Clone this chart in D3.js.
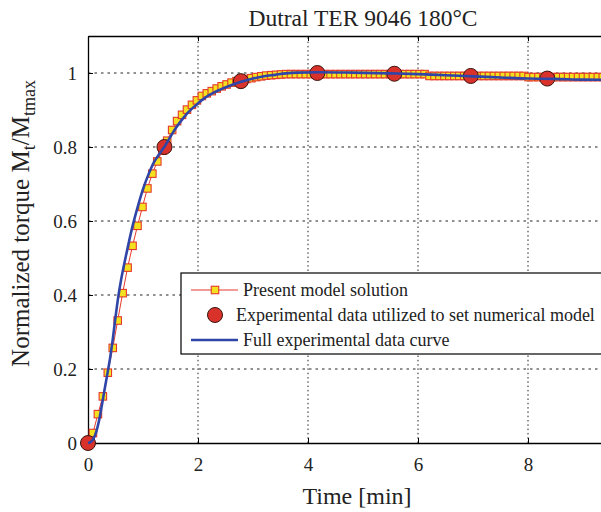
<!DOCTYPE html>
<html lang="en">
<head>
<meta charset="UTF-8" />
<title>Dutral TER 9046 180°C</title>
<style>
  body { margin: 0; background: #fff; }
  svg { display: block; }
  text { font-family: "Liberation Serif", "Times New Roman", serif; fill: #222; }
  .axis path, .axis line { stroke: #000; }
</style>
</head>
<body>
<svg width="601" height="512"></svg>
<script src="https://d3js.org/d3.v7.min.js"></script>
<script>
// model solution (squares)
var modelTime = [
  0, 0.09, 0.18, 0.27, 0.36, 0.45, 0.54, 0.63, 0.72, 0.81,
  0.9, 0.99, 1.08, 1.17, 1.26, 1.35, 1.44, 1.53, 1.62, 1.71,
  1.8, 1.89, 1.98, 2.07, 2.16, 2.25, 2.34, 2.43, 2.52, 2.61,
  2.7, 2.79, 2.88, 2.97, 3.06, 3.15, 3.24, 3.33, 3.42, 3.51,
  3.6, 3.69, 3.78, 3.87, 3.96, 4.05, 4.14, 4.23, 4.32, 4.41,
  4.5, 4.59, 4.68, 4.77, 4.86, 4.95, 5.04, 5.13, 5.22, 5.31,
  5.4, 5.49, 5.58, 5.67, 5.76, 5.85, 5.94, 6.03, 6.12, 6.21,
  6.3, 6.39, 6.48, 6.57, 6.66, 6.75, 6.84, 6.93, 7.02, 7.11,
  7.2, 7.29, 7.38, 7.47, 7.56, 7.65, 7.74, 7.83, 7.92, 8.01,
  8.1, 8.19, 8.28, 8.37, 8.46, 8.55, 8.64, 8.73, 8.82, 8.91,
  9.0, 9.09, 9.18, 9.27, 9.36, 9.45, 9.54, 9.63, 9.72, 9.81, 9.9, 9.99
];
var modelTorque = [
  0, 0.027, 0.078, 0.126, 0.19, 0.257, 0.331, 0.405, 0.474, 0.533,
  0.587, 0.638, 0.688, 0.728, 0.761, 0.79, 0.817, 0.846, 0.87, 0.887,
  0.901, 0.914, 0.926, 0.938, 0.945, 0.951, 0.958, 0.964, 0.969, 0.974,
  0.978, 0.981, 0.984, 0.986, 0.989, 0.991, 0.993, 0.994, 0.995, 0.996,
  0.997, 0.997, 0.997, 0.997, 0.997, 0.997, 0.997, 0.997, 0.997, 0.997,
  0.997, 0.997, 0.997, 0.997, 0.997, 0.997, 0.997, 0.997, 0.997, 0.997,
  0.997, 0.997, 0.997, 0.997, 0.997, 0.997, 0.997, 0.997, 0.997, 0.992,
  0.992, 0.992, 0.992, 0.992, 0.992, 0.992, 0.992, 0.992, 0.992, 0.992,
  0.992, 0.992, 0.992, 0.992, 0.992, 0.992, 0.992, 0.992, 0.992, 0.989,
  0.989, 0.989, 0.989, 0.989, 0.989, 0.989, 0.989, 0.989, 0.989, 0.989,
  0.989, 0.989, 0.989, 0.989, 0.989, 0.989, 0.989, 0.989, 0.989, 0.989, 0.989, 0.989
];

// experimental samples used for the model (circles)
var sampleTime = [0, 1.39, 2.78, 4.17, 5.57, 6.96, 8.35];
var sampleTorque = [0, 0.80, 0.978, 1.0, 0.998, 0.992, 0.985];

// full experimental curve (blue)
var expTime = [0, 0.05, 0.1, 0.15, 0.2, 0.25, 0.3, 0.35, 0.4, 0.45, 0.5, 0.55, 0.6, 0.65, 0.7,
  0.8, 0.9, 1.0, 1.1, 1.2, 1.3, 1.4, 1.5, 1.6, 1.7, 1.8, 1.9, 2.0, 2.1, 2.2,
  2.4, 2.6, 2.8, 3.0, 3.2, 3.4, 3.6, 3.8, 4.2, 4.8, 5.5, 6.0, 6.5, 7.0, 7.5, 8.0, 8.5, 9.0, 10.0];
var expTorque = [0, 0.003, 0.012, 0.03, 0.06, 0.1, 0.143, 0.185, 0.228, 0.28, 0.34, 0.395, 0.44, 0.478, 0.513,
  0.58, 0.636, 0.686, 0.726, 0.759, 0.782, 0.803, 0.828, 0.852, 0.872, 0.89, 0.905, 0.918, 0.93, 0.94,
  0.955, 0.967, 0.977, 0.985, 0.991, 0.995, 0.999, 1.001, 1.002, 1.001, 0.999, 0.997, 0.994, 0.991, 0.988, 0.985, 0.984, 0.982, 0.981];

var xTicks = [0, 2, 4, 6, 8, 10];
var xTickLabels = [0, 2, 4, 6, 8];
var yTicks = [0, 0.2, 0.4, 0.6, 0.8, 1];
var legendLabels = ["Present model solution", "Experimental data utilized to set numerical model", "Full experimental data curve"];

var svg = d3.select("svg");
var margin = {top: 36, left: 88};
var width = 550, height = 407;

var x = d3.scaleLinear().domain([0, 10]).range([margin.left, margin.left + width]);
var y = d3.scaleLinear().domain([0, 1.1]).range([margin.top + height, margin.top]);

var model = modelTime.map(function(t, i) { return [t, modelTorque[i]]; });
var samples = sampleTime.map(function(t, i) { return [t, sampleTorque[i]]; });
var expData = expTime.map(function(t, i) { return [t, expTorque[i]]; });

var cRed = "#e4392b", cYellow = "#f3e11f", cBlue = "#2f45a8", cDot = "#d8322a";

// grid
var grid = svg.append("g");
grid.selectAll(".vg").data(xTicks.filter(function(d) { return d > 0 && d < 10; }))
  .enter().append("line")
  .attr("x1", function(d) { return x(d); }).attr("x2", function(d) { return x(d); })
  .attr("y1", y(0)).attr("y2", y(1.1))
  .attr("stroke", "#222").attr("stroke-width", 1).attr("stroke-dasharray", "1.5,2.8");
grid.selectAll(".hg").data(yTicks.filter(function(d) { return d > 0; }))
  .enter().append("line")
  .attr("x1", x(0)).attr("x2", x(10))
  .attr("y1", function(d) { return y(d); }).attr("y2", function(d) { return y(d); })
  .attr("stroke", "#222").attr("stroke-width", 1).attr("stroke-dasharray", "2.5,4");

// axes
svg.append("g").attr("class", "axis")
  .attr("transform", "translate(0," + y(0) + ")")
  .call(d3.axisBottom(x).tickValues(xTicks).tickSize(-5).tickSizeOuter(0).tickPadding(15)
    .tickFormat(function(d) { return xTickLabels.indexOf(d) >= 0 ? String(d) : ""; }));
svg.append("g").attr("class", "axis")
  .attr("transform", "translate(" + x(0) + ",0)")
  .call(d3.axisLeft(y).tickValues(yTicks).tickSize(-5).tickSizeOuter(0).tickPadding(11)
    .tickFormat(function(d) { return String(d); }));
svg.append("g").attr("class", "axis")
  .attr("transform", "translate(0," + y(1.1) + ")")
  .call(d3.axisTop(x).tickValues(xTicks).tickSize(-5).tickSizeOuter(0).tickFormat(""));
svg.selectAll(".axis text").style("font-family", "Liberation Serif").style("font-size", "19px").attr("fill", "#222");
svg.selectAll(".axis path").attr("stroke-width", 1.3);

// model line + squares
svg.append("path").datum(model)
  .attr("fill", "none").attr("stroke", cRed).attr("stroke-width", 1)
  .attr("d", d3.line().x(function(d) { return x(d[0]); }).y(function(d) { return y(d[1]); }));
svg.selectAll(".sq").data(model).enter().append("rect")
  .attr("x", function(d) { return x(d[0]) - 3.75; })
  .attr("y", function(d) { return y(d[1]) - 3.75; })
  .attr("width", 7.5).attr("height", 7.5)
  .attr("fill", cYellow).attr("stroke", cRed).attr("stroke-width", 1.1);

// sample circles
svg.selectAll(".dot").data(samples).enter().append("circle")
  .attr("cx", function(d) { return x(d[0]); })
  .attr("cy", function(d) { return y(d[1]); })
  .attr("r", 7.5)
  .attr("fill", cDot).attr("stroke", "#3a1510").attr("stroke-width", 1);

// full experimental curve
svg.append("path").datum(expData)
  .attr("fill", "none").attr("stroke", cBlue).attr("stroke-width", 2.6)
  .attr("d", d3.line().curve(d3.curveMonotoneX).x(function(d) { return x(d[0]); }).y(function(d) { return y(d[1]); }));

// title and axis labels
svg.append("text").attr("x", x(5)).attr("y", 26).attr("text-anchor", "middle")
  .style("font-size", "23.5px").text("Dutral TER 9046 180°C");
svg.append("text").attr("x", x(5) - 6).attr("y", 504).attr("text-anchor", "middle")
  .style("font-size", "24px").text("Time [min]");
var yl = svg.append("text")
  .attr("transform", "translate(29," + (margin.top + height / 2 - 16) + ") rotate(-90)")
  .attr("text-anchor", "middle").style("font-size", "25px");
yl.append("tspan").text("Normalized torque M");
yl.append("tspan").attr("baseline-shift", "-35%").style("font-size", "18px").text("t");
yl.append("tspan").text("/M");
yl.append("tspan").attr("baseline-shift", "-35%").style("font-size", "18px").text("tmax");

// legend
var lg = svg.append("g").attr("transform", "translate(181,273)");
lg.append("rect").attr("width", 440).attr("height", 81)
  .attr("fill", "#fff").attr("stroke", "#000").attr("stroke-width", 1.2);
var rowY = [17, 42, 67];
lg.append("line").attr("x1", 10).attr("x2", 57).attr("y1", rowY[0]).attr("y2", rowY[0])
  .attr("stroke", cRed).attr("stroke-width", 1);
lg.append("rect").attr("x", 30.25).attr("y", rowY[0] - 3.75).attr("width", 7.5).attr("height", 7.5)
  .attr("fill", cYellow).attr("stroke", cRed).attr("stroke-width", 1.1);
lg.append("circle").attr("cx", 34).attr("cy", rowY[1]).attr("r", 7.5)
  .attr("fill", cDot).attr("stroke", "#3a1510");
lg.append("line").attr("x1", 10).attr("x2", 57).attr("y1", rowY[2]).attr("y2", rowY[2])
  .attr("stroke", cBlue).attr("stroke-width", 2.6);
var textX = [62, 55, 62];
lg.selectAll(".lt").data(legendLabels).enter().append("text")
  .attr("x", function(d, i) { return textX[i]; })
  .attr("y", function(d, i) { return rowY[i] + 6; })
  .style("font-size", "18px").text(function(d) { return d; });
</script>
</body>
</html>
